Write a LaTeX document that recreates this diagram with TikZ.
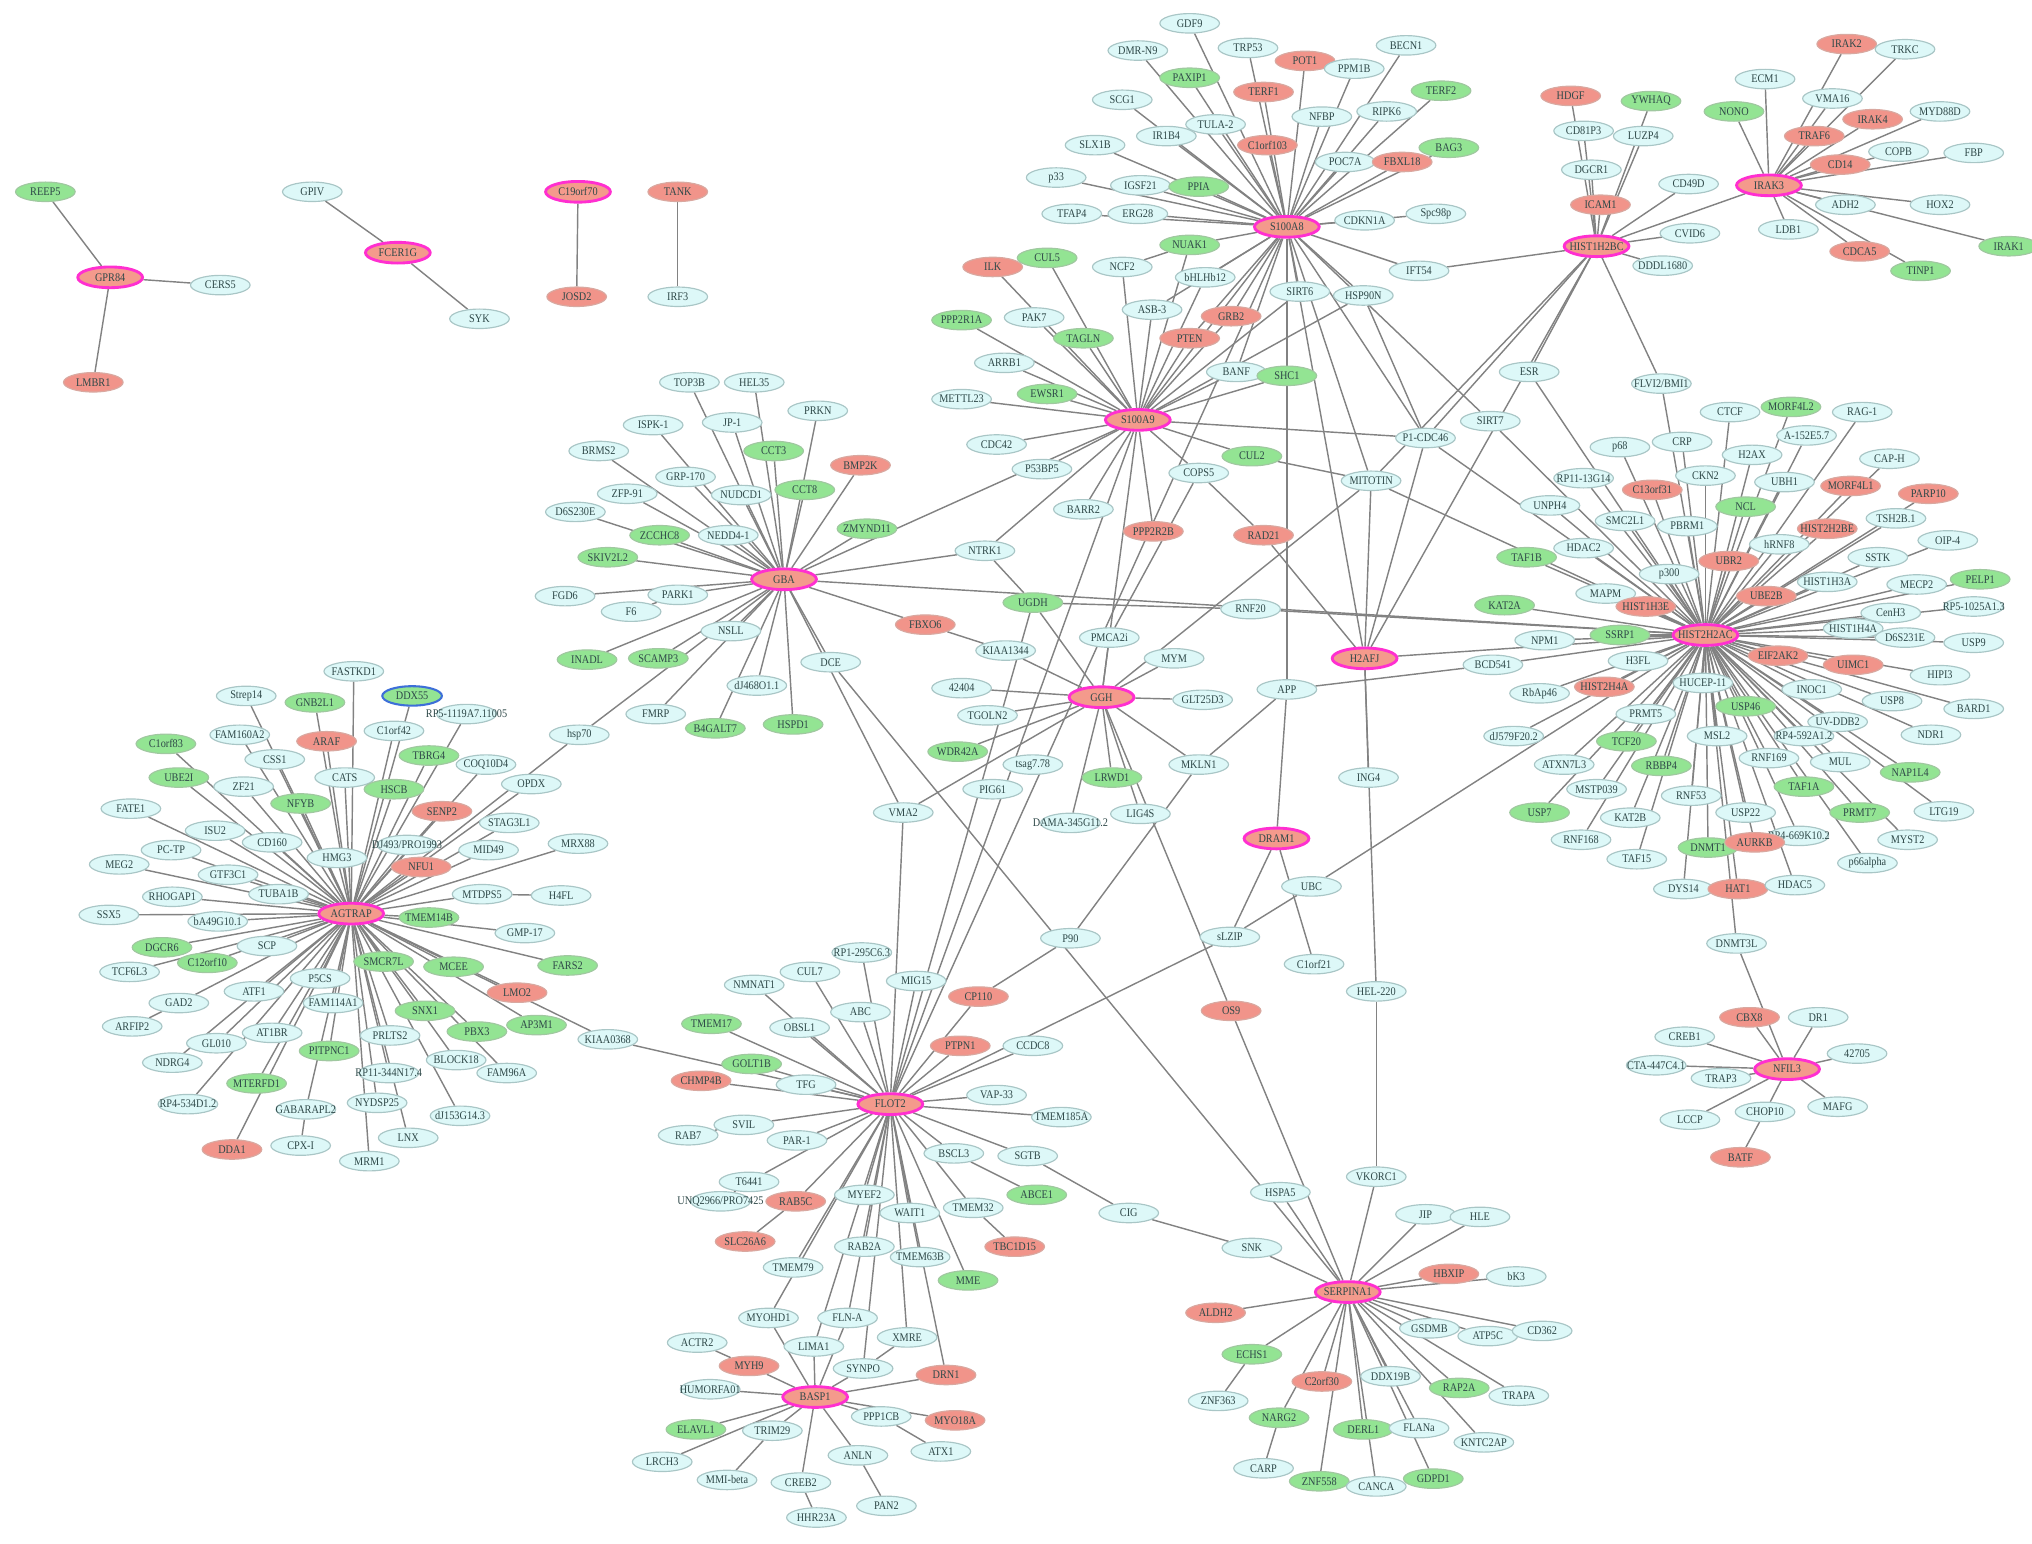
\documentclass[tikz,border=0pt]{standalone}
\usepackage{fontspec}
\setmainfont{Liberation Serif}[FakeStretch=0.88]
\usetikzlibrary{shapes.geometric}
\pgfdeclarelayer{bg}\pgfsetlayers{bg,main}
\definecolor{cyf}{HTML}{DDF8F8}
\definecolor{cyb}{HTML}{A9C6C6}
\definecolor{grf}{HTML}{93E493}
\definecolor{grb}{HTML}{A0C8A0}
\definecolor{rdf}{HTML}{F1948A}
\definecolor{rdb}{HTML}{D9A8A0}
\definecolor{hbf}{HTML}{F49A8C}
\definecolor{hbb}{HTML}{FF2FD0}
\definecolor{txt}{HTML}{2E4848}
\definecolor{edg}{HTML}{828282}
\definecolor{blb}{HTML}{3D6FD8}
\tikzset{
 base/.style={ellipse, minimum width=46pt, minimum height=15pt, inner sep=0pt, line width=0.9pt, text=txt, font=\fontsize{9}{9}\selectfont},
 nc/.style={base, fill=cyf, draw=cyb},
 ng/.style={base, fill=grf, draw=grb},
 nr/.style={base, fill=rdf, draw=rdb},
 nh/.style={base, fill=hbf, draw=hbb, line width=2.2pt, minimum width=50pt, minimum height=16pt},
 nb/.style={base, fill=grf, draw=blb, line width=1.6pt},
 ed/.style={draw=edg, line width=1.1pt},
}
\newcommand\nd[5]{\node[#1] (#2) at (#3,#4) {\makebox[0pt]{#5}};}
\newcommand\hubs[2]{\foreach \t in {#2}{\draw[ed] (#1) -- (\t);}}
\begin{document}
\begin{tikzpicture}[x=1pt,y=-1pt]
\useasboundingbox (0,0) rectangle (1568,1191);
% ---------- small components
\nd{ng}{REEP5}{35}{148}{REEP5}
\nd{nh}{GPR84}{85}{214}{GPR84}
\nd{nc}{CERS5}{170}{220}{CERS5}
\nd{nr}{LMBR1}{72}{295}{LMBR1}
\nd{nc}{GPIV}{241}{148}{GPIV}
\nd{nh}{FCER1G}{307}{195}{FCER1G}
\nd{nc}{SYK}{370}{246}{SYK}
\nd{nh}{C19orf70}{446}{148}{C19orf70}
\nd{nr}{JOSD2}{445}{229}{JOSD2}
\nd{nr}{TANK}{523}{148}{TANK}
\nd{nc}{IRF3}{523}{229}{IRF3}
% ---------- S100A8
\nd{nh}{SAe}{993}{175}{S100A8}
\nd{nc}{GDF9}{918}{18}{GDF9}
\nd{nc}{DMRN9}{878}{39}{DMR-N9}
\nd{nc}{TRP53}{963}{37}{TRP53}
\nd{nr}{POT1}{1007}{47}{POT1}
\nd{nc}{PPM1B}{1045}{53}{PPM1B}
\nd{nc}{BECN1}{1085}{35}{BECN1}
\nd{ng}{PAXIP1}{918}{60}{PAXIP1}
\nd{nr}{TERF1}{975}{71}{TERF1}
\nd{ng}{TERF2}{1112}{70}{TERF2}
\nd{nc}{SCG1}{866}{77}{SCG1}
\nd{nc}{TULA2}{938}{96}{TULA-2}
\nd{nc}{NFBP}{1020}{90}{NFBP}
\nd{nc}{RIPK6}{1070}{86}{RIPK6}
\nd{nc}{IR1B4}{900}{105}{IR1B4}
\nd{nr}{C1orf103}{978}{112}{C1orf103}
\nd{ng}{BAG3}{1118}{114}{BAG3}
\nd{nc}{POC7A}{1038}{125}{POC7A}
\nd{nr}{FBXL18}{1082}{125}{FBXL18}
\nd{nc}{SLX1B}{845}{112}{SLX1B}
\nd{nc}{p33}{815}{137}{p33}
\nd{nc}{IGSF21}{880}{143}{IGSF21}
\nd{ng}{PPIA}{925}{144}{PPIA}
\nd{nc}{ERG28}{878}{165}{ERG28}
\nd{nc}{TFAP4}{827}{165}{TFAP4}
\nd{nc}{CDKN1A}{1053}{170}{CDKN1A}
\nd{nc}{Spc98p}{1108}{165}{Spc98p}
\nd{ng}{NUAK1}{918}{189}{NUAK1}
\nd{nc}{NCF2}{866}{206}{NCF2}
\nd{nc}{bHLHb12}{930}{214}{bHLHb12}
\nd{nc}{IFT54}{1095}{209}{IFT54}
\nd{nc}{SIRT6}{1003}{225}{SIRT6}
\nd{nc}{HSP90N}{1052}{228}{HSP90N}
\nd{nc}{ASB3}{889}{239}{ASB-3}
\nd{nr}{GRB2}{950}{244}{GRB2}
\nd{nr}{PTEN}{918}{261}{PTEN}
% ---------- S100A9
\nd{nh}{SAn}{878}{324}{S100A9}
\nd{nr}{ILK}{766}{206}{ILK}
\nd{ng}{CUL5}{808}{199}{CUL5}
\nd{nc}{PAK7}{798}{245}{PAK7}
\nd{ng}{PPP2R1A}{742}{247}{PPP2R1A}
\nd{ng}{TAGLN}{836}{261}{TAGLN}
\nd{nc}{ARRB1}{775}{280}{ARRB1}
\nd{nc}{BANF}{954}{287}{BANF}
\nd{ng}{SHC1}{993}{290}{SHC1}
\nd{ng}{EWSR1}{808}{304}{EWSR1}
\nd{nc}{METTL23}{742}{308}{METTL23}
\nd{nc}{CDC42}{769}{343}{CDC42}
\nd{ng}{CUL2}{966}{352}{CUL2}
\nd{nc}{COPS5}{925}{365}{COPS5}
\nd{nc}{P53BP5}{804}{362}{P53BP5}
\nd{nc}{BARR2}{836}{393}{BARR2}
\nd{nr}{PPP2R2B}{890}{410}{PPP2R2B}
\nd{nr}{RAD21}{975}{413}{RAD21}
\nd{nc}{NTRK1}{760}{425}{NTRK1}
\nd{nc}{P1CDC46}{1100}{338}{P1-CDC46}
\nd{nc}{MITOTIN}{1058}{371}{MITOTIN}
\nd{nc}{SIRT7}{1150}{325}{SIRT7}
\nd{nc}{ESR}{1180}{287}{ESR}
\nd{nc}{FLVI2}{1282}{296}{FLVI2/BMI1}
% ---------- HIST1H2BC
\nd{nh}{HBc}{1232}{190}{HIST1H2BC}
\nd{nr}{HDGF}{1212}{74}{HDGF}
\nd{ng}{YWHAQ}{1274}{78}{YWHAQ}
\nd{nc}{CD81P3}{1222}{101}{CD81P3}
\nd{nc}{LUZP4}{1268}{105}{LUZP4}
\nd{nc}{DGCR1}{1228}{131}{DGCR1}
\nd{nc}{CD49D}{1303}{142}{CD49D}
\nd{nr}{ICAM1}{1235}{158}{ICAM1}
\nd{nc}{CVID6}{1304}{180}{CVID6}
\nd{nc}{DDDL}{1283}{205}{DDDL1680}
% ---------- IRAK3
\nd{nh}{IRK3}{1365}{143}{IRAK3}
\nd{nr}{IRAK2}{1425}{34}{IRAK2}
\nd{nc}{TRKC}{1470}{38}{TRKC}
\nd{nc}{ECM1}{1362}{61}{ECM1}
\nd{nc}{VMA16}{1414}{76}{VMA16}
\nd{ng}{NONO}{1338}{86}{NONO}
\nd{nc}{MYD88D}{1497}{86}{MYD88D}
\nd{nr}{IRAK4}{1445}{92}{IRAK4}
\nd{nr}{TRAF6}{1400}{105}{TRAF6}
\nd{nc}{COPB}{1465}{117}{COPB}
\nd{nc}{FBP}{1523}{118}{FBP}
\nd{nr}{CD14}{1420}{127}{CD14}
\nd{nc}{ADH2}{1424}{158}{ADH2}
\nd{nc}{HOX2}{1497}{158}{HOX2}
\nd{nc}{LDB1}{1380}{177}{LDB1}
\nd{ng}{IRAK1}{1550}{190}{IRAK1}
\nd{nr}{CDCA5}{1435}{194}{CDCA5}
\nd{ng}{TINP1}{1482}{209}{TINP1}
% ---------- HIST2H2AC
\nd{nh}{HBa}{1316}{490}{HIST2H2AC}
\nd{nc}{CTCF}{1335}{318}{CTCF}
\nd{ng}{MORF4L2}{1382}{314}{MORF4L2}
\nd{nc}{RAG1}{1437}{318}{RAG-1}
\nd{nc}{A152}{1394}{336}{A-152E5.7}
\nd{nc}{H2AX}{1352}{351}{H2AX}
\nd{nc}{CAPH}{1458}{354}{CAP-H}
\nd{nc}{p68}{1250}{345}{p68}
\nd{nc}{CRP}{1298}{341}{CRP}
\nd{nc}{CKN2}{1316}{367}{CKN2}
\nd{nc}{UBH1}{1377}{372}{UBH1}
\nd{nr}{MORF4L1}{1428}{375}{MORF4L1}
\nd{nr}{PARP10}{1488}{381}{PARP10}
\nd{nc}{RP1113}{1222}{369}{RP11-13G14}
\nd{nr}{C13orf31}{1275}{378}{C13orf31}
\nd{nc}{UNPH4}{1196}{390}{UNPH4}
\nd{ng}{NCL}{1347}{391}{NCL}
\nd{nc}{TSH2B}{1463}{400}{TSH2B.1}
\nd{nc}{SMC2L1}{1254}{402}{SMC2L1}
\nd{nc}{PBRM1}{1302}{406}{PBRM1}
\nd{nr}{H2BE}{1410}{408}{HIST2H2BE}
\nd{nc}{OIP4}{1503}{417}{OIP-4}
\nd{nc}{HDAC2}{1222}{423}{HDAC2}
\nd{nc}{hRNF8}{1373}{420}{hRNF8}
\nd{ng}{TAF1B}{1178}{430}{TAF1B}
\nd{nr}{UBR2}{1334}{433}{UBR2}
\nd{nc}{SSTK}{1449}{430}{SSTK}
\nd{nc}{p300}{1288}{443}{p300}
\nd{nc}{H1H3A}{1410}{449}{HIST1H3A}
\nd{nc}{MECP2}{1479}{451}{MECP2}
\nd{ng}{PELP1}{1528}{447}{PELP1}
\nd{nc}{MAPM}{1239}{458}{MAPM}
\nd{nr}{UBE2B}{1363}{460}{UBE2B}
\nd{ng}{KAT2A}{1161}{467}{KAT2A}
\nd{nr}{H1H3E}{1270}{468}{HIST1H3E}
\nd{nc}{CenH3}{1459}{473}{CenH3}
\nd{nc}{RP51025}{1523}{468}{RP5-1025A1.3}
\nd{nc}{H1H4A}{1430}{485}{HIST1H4A}
\nd{nc}{D6S231E}{1470}{492}{D6S231E}
\nd{nc}{USP9}{1523}{496}{USP9}
\nd{nc}{NPM1}{1192}{494}{NPM1}
\nd{ng}{SSRP1}{1250}{490}{SSRP1}
\nd{nc}{BCD541}{1152}{513}{BCD541}
\nd{nc}{H3FL}{1264}{510}{H3FL}
\nd{nr}{EIF2AK2}{1372}{506}{EIF2AK2}
\nd{nr}{UIMC1}{1430}{513}{UIMC1}
\nd{nc}{HIPI3}{1497}{521}{HIPI3}
\nd{nc}{RbAp46}{1188}{535}{RbAp46}
\nd{nr}{H2H4A}{1238}{530}{HIST2H4A}
\nd{nc}{HUCEP}{1314}{527}{HUCEP-11}
\nd{nc}{BARD1}{1523}{547}{BARD1}
\nd{nc}{INOC1}{1398}{532}{INOC1}
\nd{nc}{USP8}{1460}{541}{USP8}
\nd{ng}{USP46}{1347}{545}{USP46}
\nd{nc}{PRMT5}{1270}{551}{PRMT5}
\nd{nc}{UVDDB2}{1418}{557}{UV-DDB2}
\nd{nc}{NDR1}{1490}{567}{NDR1}
\nd{nc}{dJ579}{1168}{568}{dJ579F20.2}
\nd{nc}{MSL2}{1325}{568}{MSL2}
\nd{nc}{RP4592}{1392}{568}{RP4-592A1.2}
\nd{ng}{TCF20}{1255}{572}{TCF20}
\nd{nc}{RNF169}{1365}{585}{RNF169}
\nd{nc}{MUL}{1420}{588}{MUL}
\nd{ng}{NAP1L4}{1474}{596}{NAP1L4}
\nd{nc}{ATXN7L3}{1207}{590}{ATXN7L3}
\nd{ng}{RBBP4}{1282}{591}{RBBP4}
\nd{ng}{TAF1A}{1392}{607}{TAF1A}
\nd{nc}{MSTP039}{1232}{609}{MSTP039}
\nd{nc}{RNF53}{1305}{614}{RNF53}
\nd{ng}{USP7}{1188}{627}{USP7}
\nd{nc}{USP22}{1347}{627}{USP22}
\nd{ng}{PRMT7}{1435}{627}{PRMT7}
\nd{nc}{LTG19}{1500}{626}{LTG19}
\nd{nc}{KAT2B}{1258}{631}{KAT2B}
\nd{nc}{RP4669}{1388}{645}{RP4-669K10.2}
\nd{nc}{RNF168}{1220}{648}{RNF168}
\nd{ng}{DNMT1}{1318}{654}{DNMT1}
\nd{nr}{AURKB}{1354}{650}{AURKB}
\nd{nc}{MYST2}{1472}{648}{MYST2}
\nd{nc}{p66alpha}{1441}{666}{p66alpha}
\nd{nc}{TAF15}{1263}{663}{TAF15}
\nd{nc}{DYS14}{1299}{686}{DYS14}
\nd{nr}{HAT1}{1341}{686}{HAT1}
\nd{nc}{HDAC5}{1385}{683}{HDAC5}
\nd{nc}{DNMT3L}{1340}{728}{DNMT3L}
% ---------- NFIL3
\nd{nh}{NFIL3}{1379}{825}{NFIL3}
\nd{nr}{CBX8}{1350}{785}{CBX8}
\nd{nc}{DR1}{1403}{785}{DR1}
\nd{nc}{CREB1}{1300}{800}{CREB1}
\nd{nc}{n42705}{1433}{813}{42705}
\nd{nc}{CTA447}{1278}{822}{CTA-447C4.1}
\nd{nc}{TRAP3}{1328}{832}{TRAP3}
\nd{nc}{MAFG}{1418}{854}{MAFG}
\nd{nc}{CHOP10}{1362}{858}{CHOP10}
\nd{nc}{LCCP}{1304}{864}{LCCP}
\nd{nr}{BATF}{1343}{893}{BATF}
% ---------- GBA
\nd{nh}{GBA}{605}{447}{GBA}
\nd{nc}{TOP3B}{532}{295}{TOP3B}
\nd{nc}{HEL35}{582}{295}{HEL35}
\nd{nc}{JP1}{565}{326}{JP-1}
\nd{nc}{PRKN}{631}{317}{PRKN}
\nd{nc}{ISPK1}{504}{328}{ISPK-1}
\nd{nc}{BRMS2}{462}{348}{BRMS2}
\nd{ng}{CCT3}{597}{348}{CCT3}
\nd{nr}{BMP2K}{664}{359}{BMP2K}
\nd{nc}{GRP170}{529}{368}{GRP-170}
\nd{nc}{NUDCD1}{572}{382}{NUDCD1}
\nd{ng}{CCT8}{621}{378}{CCT8}
\nd{nc}{ZFP91}{484}{381}{ZFP-91}
\nd{nc}{D6S230E}{444}{395}{D6S230E}
\nd{ng}{ZMYND11}{669}{408}{ZMYND11}
\nd{ng}{ZCCHC8}{509}{413}{ZCCHC8}
\nd{nc}{NEDD41}{562}{413}{NEDD4-1}
\nd{ng}{SKIV2L2}{469}{430}{SKIV2L2}
\nd{nc}{FGD6}{436}{460}{FGD6}
\nd{nc}{PARK1}{523}{459}{PARK1}
\nd{nc}{F6}{487}{472}{F6}
\nd{nc}{NSLL}{564}{487}{NSLL}
\nd{nr}{FBXO6}{714}{482}{FBXO6}
\nd{ng}{INADL}{453}{509}{INADL}
\nd{ng}{SCAMP3}{508}{508}{SCAMP3}
\nd{nc}{DCE}{641}{511}{DCE}
\nd{nc}{dJ468}{584}{529}{dJ468O1.1}
\nd{nc}{FMRP}{506}{551}{FMRP}
\nd{ng}{B4GALT7}{552}{562}{B4GALT7}
\nd{ng}{HSPD1}{612}{559}{HSPD1}
\nd{nc}{hsp70}{447}{567}{hsp70}
% ---------- GGH
\nd{nh}{GGH}{850}{538}{GGH}
\nd{nc}{PMCA2i}{856}{492}{PMCA2i}
\nd{nc}{MYM}{906}{508}{MYM}
\nd{nc}{KIAA1344}{776}{502}{KIAA1344}
\nd{nc}{n42404}{742}{531}{42404}
\nd{nc}{GLT25D3}{928}{540}{GLT25D3}
\nd{nc}{TGOLN2}{762}{552}{TGOLN2}
\nd{ng}{WDR42A}{739}{580}{WDR42A}
\nd{nc}{tsag}{797}{590}{tsag7.78}
\nd{nc}{MKLN1}{925}{590}{MKLN1}
\nd{ng}{LRWD1}{858}{600}{LRWD1}
\nd{nc}{PIG61}{766}{609}{PIG61}
\nd{nc}{LIG4S}{880}{628}{LIG4S}
\nd{nc}{DAMA}{826}{635}{DAMA-345G11.2}
\nd{ng}{UGDH}{797}{465}{UGDH}
\nd{nc}{VMA2}{697}{627}{VMA2}
% ---------- middle
\nd{nc}{MIG15}{707}{757}{MIG15}
\nd{nc}{P90}{826}{724}{P90}
\nd{nr}{CP110}{755}{769}{CP110}
\nd{nr}{OS9}{950}{780}{OS9}
\nd{nc}{HEL220}{1062}{765}{HEL-220}
\nd{nc}{ING4}{1056}{600}{ING4}
\nd{nc}{RNF20}{965}{470}{RNF20}
\nd{nc}{APP}{993}{532}{APP}
\nd{nc}{UBC}{1012}{684}{UBC}
\nd{nc}{sLZIP}{949}{723}{sLZIP}
\nd{nc}{C1orf21}{1014}{744}{C1orf21}
\nd{nh}{H2AFJ}{1053}{508}{H2AFJ}
\nd{nh}{DRAM1}{985}{647}{DRAM1}
\nd{nc}{CIG}{871}{936}{CIG}
\nd{nc}{SNK}{966}{963}{SNK}
% ---------- AGTRAP
\nd{nh}{AGT}{271}{705}{AGTRAP}
\nd{nc}{FASTKD1}{273}{518}{FASTKD1}
\nd{nc}{Strep14}{190}{537}{Strep14}
\nd{ng}{GNB2L1}{243}{542}{GNB2L1}
\nd{nb}{DDX55}{318}{537}{DDX55}
\nd{nc}{RP5}{360}{551}{RP5-1119A7.11005}
\nd{nc}{FAM160A2}{185}{567}{FAM160A2}
\nd{nc}{C1orf42}{304}{564}{C1orf42}
\nd{nr}{ARAF}{252}{572}{ARAF}
\nd{ng}{C1orf83}{128}{574}{C1orf83}
\nd{nc}{CSS1}{212}{586}{CSS1}
\nd{ng}{TBRG4}{331}{583}{TBRG4}
\nd{nc}{COQ10D4}{375}{590}{COQ10D4}
\nd{nc}{CATS}{266}{600}{CATS}
\nd{ng}{UBE2I}{138}{600}{UBE2I}
\nd{nc}{ZF21}{188}{607}{ZF21}
\nd{ng}{HSCB}{304}{609}{HSCB}
\nd{nc}{OPDX}{410}{605}{OPDX}
\nd{ng}{NFYB}{232}{620}{NFYB}
\nd{nc}{FATE1}{101}{624}{FATE1}
\nd{nr}{SENP2}{341}{626}{SENP2}
\nd{nc}{STAG3L1}{393}{635}{STAG3L1}
\nd{nc}{ISU2}{166}{641}{ISU2}
\nd{nc}{CD160}{210}{650}{CD160}
\nd{nc}{PCTP}{132}{656}{PC-TP}
\nd{nc}{HMG3}{260}{662}{HMG3}
\nd{nc}{DJ493}{314}{652}{DJ493/PRO1993}
\nd{nc}{MID49}{377}{656}{MID49}
\nd{nc}{MRX88}{446}{651}{MRX88}
\nd{nr}{NFU1}{325}{669}{NFU1}
\nd{nc}{MEG2}{92}{667}{MEG2}
\nd{nc}{GTF3C1}{176}{675}{GTF3C1}
\nd{nc}{TUBA1B}{215}{690}{TUBA1B}
\nd{nc}{RHOGAP1}{133}{692}{RHOGAP1}
\nd{nc}{MTDPS5}{372}{690}{MTDPS5}
\nd{nc}{H4FL}{433}{691}{H4FL}
\nd{nc}{SSX5}{84}{706}{SSX5}
\nd{nc}{bA49}{168}{711}{bA49G10.1}
\nd{ng}{TMEM14B}{331}{708}{TMEM14B}
\nd{nc}{GMP17}{405}{720}{GMP-17}
\nd{nc}{SCP}{206}{730}{SCP}
\nd{ng}{DGCR6}{125}{731}{DGCR6}
\nd{ng}{C12orf10}{160}{743}{C12orf10}
\nd{ng}{SMCR7L}{296}{742}{SMCR7L}
\nd{ng}{MCEE}{350}{746}{MCEE}
\nd{ng}{FARS2}{438}{745}{FARS2}
\nd{nc}{TCF6L3}{100}{750}{TCF6L3}
\nd{nc}{P5CS}{247}{755}{P5CS}
\nd{nc}{ATF1}{196}{765}{ATF1}
\nd{nc}{FAM114A1}{257}{774}{FAM114A1}
\nd{nr}{LMO2}{399}{766}{LMO2}
\nd{nc}{GAD2}{138}{774}{GAD2}
\nd{ng}{SNX1}{328}{780}{SNX1}
\nd{ng}{AP3M1}{414}{791}{AP3M1}
\nd{nc}{ARFIP2}{102}{792}{ARFIP2}
\nd{nc}{AT1BR}{210}{797}{AT1BR}
\nd{nc}{PRLTS2}{301}{799}{PRLTS2}
\nd{ng}{PBX3}{368}{796}{PBX3}
\nd{nc}{KIAA0368}{469}{802}{KIAA0368}
\nd{nc}{GL010}{167}{805}{GL010}
\nd{ng}{PITPNC1}{254}{811}{PITPNC1}
\nd{nc}{BLOCK18}{352}{818}{BLOCK18}
\nd{nc}{NDRG4}{133}{820}{NDRG4}
\nd{nc}{RP11}{300}{828}{RP11-344N17.4}
\nd{nc}{FAM96A}{391}{828}{FAM96A}
\nd{ng}{MTERFD1}{198}{836}{MTERFD1}
\nd{nc}{RP4534}{145}{852}{RP4-534D1.2}
\nd{nc}{NYDSP25}{291}{851}{NYDSP25}
\nd{nc}{GABARAPL2}{236}{856}{GABARAPL2}
\nd{nc}{dJ153}{355}{861}{dJ153G14.3}
\nd{nr}{DDA1}{179}{887}{DDA1}
\nd{nc}{CPXI}{232}{884}{CPX-I}
\nd{nc}{LNX}{315}{878}{LNX}
\nd{nc}{MRM1}{285}{896}{MRM1}
% ---------- FLOT2
\nd{nh}{FL2}{687}{852}{FLOT2}
\nd{nc}{RP1295}{665}{735}{RP1-295C6.3}
\nd{nc}{CUL7}{625}{750}{CUL7}
\nd{nc}{NMNAT1}{582}{760}{NMNAT1}
\nd{nc}{ABC}{664}{781}{ABC}
\nd{ng}{TMEM17}{549}{790}{TMEM17}
\nd{nc}{OBSL1}{617}{793}{OBSL1}
\nd{nr}{PTPN1}{741}{807}{PTPN1}
\nd{nc}{CCDC8}{797}{807}{CCDC8}
\nd{ng}{GOLT1B}{580}{821}{GOLT1B}
\nd{nr}{CHMP4B}{541}{834}{CHMP4B}
\nd{nc}{TFG}{622}{837}{TFG}
\nd{nc}{VAP33}{769}{845}{VAP-33}
\nd{nc}{TMEM185A}{819}{862}{TMEM185A}
\nd{nc}{SVIL}{574}{868}{SVIL}
\nd{nc}{RAB7}{531}{876}{RAB7}
\nd{nc}{PAR1}{615}{880}{PAR-1}
\nd{nc}{BSCL3}{736}{890}{BSCL3}
\nd{nc}{SGTB}{793}{892}{SGTB}
\nd{nc}{T6441}{578}{912}{T6441}
\nd{nc}{UNQ}{556}{927}{UNQ2966/PRO7425}
\nd{nr}{RAB5C}{614}{927}{RAB5C}
\nd{nc}{MYEF2}{667}{922}{MYEF2}
\nd{ng}{ABCE1}{800}{922}{ABCE1}
\nd{nc}{WAIT1}{702}{936}{WAIT1}
\nd{nc}{TMEM32}{751}{932}{TMEM32}
\nd{nr}{SLC26A6}{575}{958}{SLC26A6}
\nd{nc}{RAB2A}{667}{962}{RAB2A}
\nd{nr}{TBC1D15}{783}{962}{TBC1D15}
\nd{nc}{TMEM63B}{710}{970}{TMEM63B}
\nd{nc}{TMEM79}{612}{978}{TMEM79}
\nd{ng}{MME}{747}{988}{MME}
% ---------- BASP1
\nd{nh}{BSP}{629}{1078}{BASP1}
\nd{nc}{MYOHD1}{593}{1017}{MYOHD1}
\nd{nc}{FLNA}{654}{1017}{FLN-A}
\nd{nc}{XMRE}{700}{1032}{XMRE}
\nd{nc}{ACTR2}{538}{1036}{ACTR2}
\nd{nc}{LIMA1}{628}{1039}{LIMA1}
\nd{nr}{MYH9}{578}{1054}{MYH9}
\nd{nc}{SYNPO}{666}{1056}{SYNPO}
\nd{nr}{DRN1}{730}{1061}{DRN1}
\nd{nc}{HUMORFA}{548}{1072}{HUMORFA01}
\nd{nc}{PPP1CB}{680}{1093}{PPP1CB}
\nd{nr}{MYO18A}{737}{1096}{MYO18A}
\nd{ng}{ELAVL1}{537}{1103}{ELAVL1}
\nd{nc}{TRIM29}{596}{1104}{TRIM29}
\nd{nc}{ATX1}{726}{1120}{ATX1}
\nd{nc}{LRCH3}{511}{1128}{LRCH3}
\nd{nc}{ANLN}{662}{1123}{ANLN}
\nd{nc}{MMIbeta}{561}{1142}{MMI-beta}
\nd{nc}{CREB2}{618}{1144}{CREB2}
\nd{nc}{PAN2}{684}{1162}{PAN2}
\nd{nc}{HHR23A}{630}{1171}{HHR23A}
% ---------- SERPINA1
\nd{nh}{SRP}{1040}{997}{SERPINA1}
\nd{nc}{VKORC1}{1062}{908}{VKORC1}
\nd{nc}{HSPA5}{988}{920}{HSPA5}
\nd{nc}{JIP}{1100}{937}{JIP}
\nd{nc}{HLE}{1142}{939}{HLE}
\nd{nr}{HBXIP}{1118}{983}{HBXIP}
\nd{nc}{bK3}{1170}{985}{bK3}
\nd{nr}{ALDH2}{938}{1013}{ALDH2}
\nd{nc}{GSDMB}{1103}{1025}{GSDMB}
\nd{nc}{ATP5C}{1148}{1031}{ATP5C}
\nd{nc}{CD362}{1190}{1027}{CD362}
\nd{ng}{ECHS1}{966}{1045}{ECHS1}
\nd{nc}{DDX19B}{1073}{1062}{DDX19B}
\nd{nr}{C2orf30}{1020}{1066}{C2orf30}
\nd{ng}{RAP2A}{1126}{1071}{RAP2A}
\nd{nc}{TRAPA}{1172}{1077}{TRAPA}
\nd{nc}{ZNF363}{940}{1081}{ZNF363}
\nd{ng}{NARG2}{987}{1094}{NARG2}
\nd{ng}{DERL1}{1052}{1103}{DERL1}
\nd{nc}{FLANa}{1095}{1102}{FLANa}
\nd{nc}{KNTC2AP}{1145}{1113}{KNTC2AP}
\nd{nc}{CARP}{975}{1133}{CARP}
\nd{ng}{ZNF558}{1018}{1143}{ZNF558}
\nd{nc}{CANCA}{1062}{1147}{CANCA}
\nd{ng}{GDPD1}{1106}{1141}{GDPD1}
% ================= edges
\begin{pgfonlayer}{bg}
\hubs{GPR84}{REEP5,CERS5,LMBR1}
\hubs{FCER1G}{GPIV,SYK}
\hubs{C19orf70}{JOSD2}
\hubs{TANK}{IRF3}
\hubs{SAe}{GDF9,DMRN9,TRP53,POT1,PPM1B,BECN1,PAXIP1,TERF1,TERF2,SCG1,TULA2,NFBP,RIPK6,IR1B4,C1orf103,BAG3,POC7A,FBXL18,SLX1B,p33,IGSF21,PPIA,ERG28,TFAP4,CDKN1A,Spc98p,NUAK1,bHLHb12,IFT54,SIRT6,HSP90N,ASB3,GRB2,PTEN,BANF,SHC1,SAn,APP,SIRT7,P1CDC46,MITOTIN,H2AFJ,FL2}
\hubs{NCF2}{NUAK1}
\hubs{SAn}{ILK,CUL5,PAK7,PPP2R1A,TAGLN,ARRB1,BANF,SHC1,EWSR1,METTL23,CDC42,CUL2,COPS5,P53BP5,BARR2,PPP2R2B,NTRK1,GBA,ASB3,NCF2,bHLHb12,NUAK1,GRB2,PTEN,SIRT6,HSP90N,P1CDC46,GGH,FL2}
\hubs{COPS5}{RAD21,PMCA2i}
\hubs{CUL2}{MITOTIN}
\hubs{RAD21}{H2AFJ}
\hubs{HBc}{HDGF,YWHAQ,CD81P3,LUZP4,DGCR1,CD49D,ICAM1,CVID6,DDDL,IRK3,IFT54,ESR,FLVI2,P1CDC46,H2AFJ,MITOTIN}
\hubs{IRK3}{IRAK2,TRKC,ECM1,VMA16,NONO,MYD88D,IRAK4,TRAF6,COPB,FBP,CD14,ADH2,HOX2,LDB1,IRAK1,CDCA5,TINP1}
\hubs{HBa}{CTCF,MORF4L2,RAG1,A152,H2AX,CAPH,p68,CRP,CKN2,UBH1,MORF4L1,PARP10,RP1113,C13orf31,UNPH4,NCL,TSH2B,SMC2L1,PBRM1,H2BE,OIP4,HDAC2,hRNF8,TAF1B,UBR2,SSTK,p300,H1H3A,MECP2,PELP1,MAPM,UBE2B,KAT2A,H1H3E,CenH3,RP51025,H1H4A,D6S231E,USP9,NPM1,SSRP1,BCD541,H3FL,EIF2AK2,UIMC1,HIPI3,RbAp46,H2H4A,HUCEP,BARD1,INOC1,USP8,USP46,PRMT5,UVDDB2,NDR1,dJ579,MSL2,RP4592,TCF20,RNF169,MUL,NAP1L4,ATXN7L3,RBBP4,TAF1A,MSTP039,RNF53,USP7,USP22,PRMT7,LTG19,KAT2B,RP4669,RNF168,DNMT1,AURKB,MYST2,p66alpha,TAF15,DYS14,HAT1,HDAC5,DNMT3L,FLVI2,ESR,SIRT7,MITOTIN,P1CDC46,RNF20,H2AFJ,UBC,GBA}
\hubs{DNMT3L}{NFIL3}
\hubs{NFIL3}{CBX8,DR1,CREB1,n42705,CTA447,TRAP3,MAFG,CHOP10,LCCP}
\hubs{CHOP10}{BATF}
\hubs{GBA}{TOP3B,HEL35,JP1,PRKN,ISPK1,BRMS2,CCT3,BMP2K,GRP170,NUDCD1,CCT8,ZFP91,D6S230E,ZMYND11,ZCCHC8,NEDD41,SKIV2L2,FGD6,PARK1,NSLL,FBXO6,INADL,SCAMP3,DCE,dJ468,FMRP,B4GALT7,HSPD1,hsp70,NTRK1,VMA2}
\hubs{F6}{PARK1}
\hubs{FBXO6}{KIAA1344}
\hubs{GGH}{PMCA2i,MYM,KIAA1344,n42404,GLT25D3,TGOLN2,WDR42A,MKLN1,LRWD1,LIG4S,DAMA,UGDH,VMA2,MITOTIN,OS9}
\hubs{NTRK1}{UGDH}
\hubs{UGDH}{RNF20,FL2}
\hubs{VMA2}{FL2}
\hubs{DCE}{SRP}
\hubs{hsp70}{AGT}
\hubs{MKLN1}{P90,APP}
\hubs{CP110}{P90}
\hubs{OS9}{SRP}
\hubs{H2AFJ}{ING4,HEL220,MITOTIN,P1CDC46}
\hubs{HEL220}{VKORC1}
\hubs{VKORC1}{SRP}
\hubs{DRAM1}{APP,sLZIP,C1orf21}
\hubs{UBC}{sLZIP}
\hubs{APP}{BCD541}
\hubs{HSP90N}{P1CDC46}
\hubs{AGT}{FASTKD1,Strep14,GNB2L1,DDX55,RP5,FAM160A2,C1orf42,ARAF,C1orf83,CSS1,TBRG4,COQ10D4,CATS,UBE2I,ZF21,HSCB,OPDX,NFYB,FATE1,SENP2,STAG3L1,ISU2,CD160,PCTP,HMG3,DJ493,MID49,MRX88,NFU1,MEG2,GTF3C1,TUBA1B,RHOGAP1,MTDPS5,SSX5,bA49,TMEM14B,GMP17,SCP,DGCR6,C12orf10,SMCR7L,MCEE,FARS2,TCF6L3,P5CS,ATF1,FAM114A1,LMO2,GAD2,SNX1,AP3M1,AT1BR,PRLTS2,PBX3,KIAA0368,GL010,PITPNC1,BLOCK18,NDRG4,RP11,FAM96A,MTERFD1,RP4534,NYDSP25,GABARAPL2,dJ153,DDA1,LNX,MRM1}
\hubs{GAD2}{ARFIP2}
\hubs{MTDPS5}{H4FL}
\hubs{GABARAPL2}{CPXI}
\hubs{FL2}{RP1295,CUL7,NMNAT1,ABC,TMEM17,OBSL1,PTPN1,CCDC8,GOLT1B,CHMP4B,TFG,VAP33,TMEM185A,SVIL,PAR1,BSCL3,SGTB,T6441,RAB5C,MYEF2,WAIT1,TMEM32,RAB2A,TMEM63B,TMEM79,MME,KIAA0368,MIG15,CP110,sLZIP,MYOHD1,LIMA1,FLNA,SYNPO,XMRE,DRN1}
\hubs{SVIL}{RAB7}
\hubs{RAB5C}{SLC26A6}
\hubs{T6441}{UNQ}
\hubs{BSCL3}{ABCE1}
\hubs{TMEM32}{TBC1D15}
\hubs{SGTB}{CIG}
\hubs{CIG}{SNK}
\hubs{BSP}{MYOHD1,LIMA1,FLNA,SYNPO,DRN1,MYH9,HUMORFA,PPP1CB,MYO18A,ELAVL1,TRIM29,LRCH3,ANLN,CREB2}
\hubs{SYNPO}{XMRE}
\hubs{MYH9}{ACTR2}
\hubs{PPP1CB}{ATX1}
\hubs{ANLN}{PAN2}
\hubs{CREB2}{HHR23A}
\hubs{TRIM29}{MMIbeta}
\hubs{SRP}{HSPA5,JIP,HLE,SNK,HBXIP,bK3,ALDH2,GSDMB,ATP5C,CD362,ECHS1,DDX19B,C2orf30,RAP2A,TRAPA,NARG2,DERL1,FLANa,KNTC2AP,ZNF558,CANCA,GDPD1}
\hubs{ECHS1}{ZNF363}
\hubs{NARG2}{CARP}
\end{pgfonlayer}
\end{tikzpicture}
\end{document}
